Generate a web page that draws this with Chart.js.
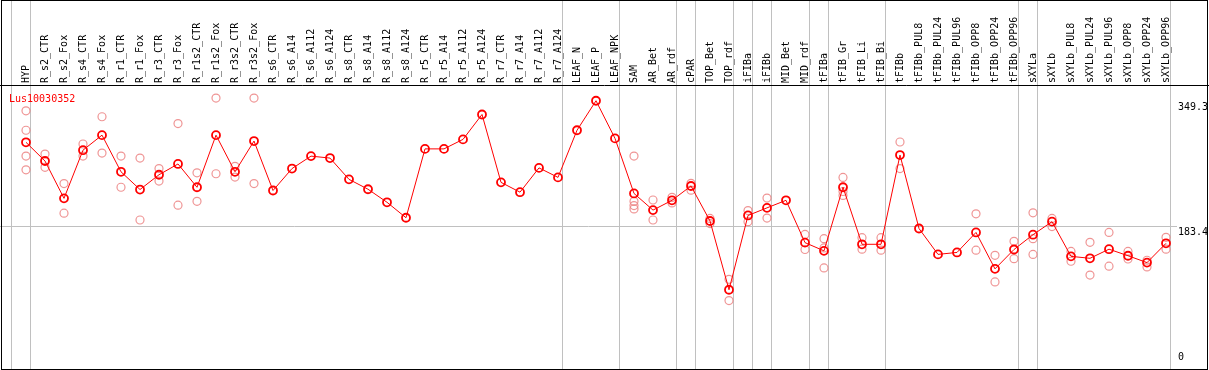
<!DOCTYPE html>
<html>
<head>
<meta charset="utf-8">
<script src="https://cdn.jsdelivr.net/npm/chart.js@4/dist/chart.umd.min.js"></script>
<style>
  html, body { margin: 0; padding: 0; background: #fff; }
  canvas { display: block; }
</style>
</head>
<body>
<canvas id="expr" width="1209" height="370"></canvas>
<script>
const N = null;

const geneName = 'Lus10030352';

const categories = [
    'HYP', 'R_s2_CTR', 'R_s2_Fox', 'R_s4_CTR', 'R_s4_Fox', 'R_r1_CTR', 'R_r1_Fox', 'R_r3_CTR', 'R_r3_Fox',
    'R_r1s2_CTR', 'R_r1s2_Fox', 'R_r3s2_CTR', 'R_r3s2_Fox', 'R_s6_CTR', 'R_s6_A14', 'R_s6_A112', 'R_s6_A124',
    'R_s8_CTR', 'R_s8_A14', 'R_s8_A112', 'R_s8_A124', 'R_r5_CTR', 'R_r5_A14', 'R_r5_A112', 'R_r5_A124',
    'R_r7_CTR', 'R_r7_A14', 'R_r7_A112', 'R_r7_A124', 'LEAF_N', 'LEAF_P', 'LEAF_NPK', 'SAM', 'AR_Bet', 'AR_rdf',
    'cPAR', 'TOP_Bet', 'TOP_rdf', 'iFIBa', 'iFIBb', 'MID_Bet', 'MID_rdf', 'tFIBa', 'tFIB_Gr', 'tFIB_Li', 'tFIB_Bi',
    'tFIBb', 'tFIBb_PUL8', 'tFIBb_PUL24', 'tFIBb_PUL96', 'tFIBb_OPP8', 'tFIBb_OPP24', 'tFIBb_OPP96',
    'sXYLa', 'sXYLb', 'sXYLb_PUL8', 'sXYLb_PUL24', 'sXYLb_PUL96', 'sXYLb_OPP8', 'sXYLb_OPP24', 'sXYLb_OPP96'
];

// index of the last sample in each group (-1 = line before the first one)
const groupEnds = [-1, 0, 28, 31, 34, 35, 37, 38, 39, 41, 42, 45, 52, 53, 60];

const meanValues = [
    294.2, 269.4, 219.9, 283.8, 303.7, 255.1, 231.6, 251.2, 265.5, 234.6,
    303.7, 255.1, 295.9, 230.3, 259.4, 275.9, 273.3, 245.1, 232.0, 214.7,
    194.2, 285.5, 285.5, 298.1, 331.1, 241.1, 228.1, 260.3, 247.7, 310.2,
    349.3, 299.4, 226.4, 204.3, 217.3, 236.3, 189.9, 98.7, 197.2, 207.3,
    217.3, 161.2, 150.3, 234.6, 159.0, 159.0, 277.3, 179.9, 145.6, 148.2,
    174.7, 126.4, 152.1, 171.7, 189.0, 143.0, 140.4, 152.5, 143.8, 134.7,
    160.3
];

const rep1 = [
    335.9, 278.6, 239.5, 292.0, 328.1, 275.9, 273.3, 259.4, 319.0, 253.8, 352.9, 262.4, 352.9,
    N, N, N, N, N, N, N, N, N, N, N, N, N, N, N, N, N, N, N,
    275.9, 217.7, 221.2, 239.8, 193.3, 112.5, 203.7, 220.3,
    N,
    172.1, 166.5, 247.7, 167.8, 167.8, 294.6,
    N, N, N,
    199.4, 144.3, 162.9, 200.7, 193.3, 149.5, 161.6, 174.7, 149.5, 137.8, 168.2
];

const rep2 = [
    310.2, 261.1, 200.3, 275.9, 279.9, 234.6, 191.2, 242.8, 210.8, 216.0, 252.5, 248.1, 239.5,
    N, N, N, N, N, N, N, N, N, N, N, N, N, N, N, N, N, N, N,
    216.0, 191.2, 213.8, 230.7, 186.4, 84.3, 189.0, 193.8,
    N,
    152.1, 154.2, 229.0, 152.5, 151.2, 259.4,
    N, N, N,
    151.2, 109.1, 139.9, 166.5, 182.5, 136.5, 118.2, 130.0, 139.5, 129.0, 152.5
];

const rep3 = [
    275.9,
    N, N, N, N, N, N, N, N, N, N, N, N, N, N, N, N, N, N, N, N, N, N, N, N, N, N, N, N, N, N, N,
    210.3,
    N, N, N, N, N, N, N, N, N,
    127.7, 223.8,
    N, N, N, N, N, N, N, N, N,
    145.6,
    N, N, N, N, N, N, N
];

const rep4 = [
    257.7,
    N, N, N, N, N, N, N, N, N, N, N, N, N, N, N, N, N, N, N, N, N, N, N, N, N, N, N, N, N, N, N,
    205.9,
    N, N, N, N, N, N, N, N, N, N, N, N, N, N, N, N, N, N, N, N, N, N, N, N, N, N, N, N
];

const yTicks = [349.3, 183.4, 0];
const gridValue = 183.4;
const yMax = 370.2;

const FONT = '10px "DejaVu Sans Mono", monospace';

const framePlugin = {
    id: 'frame',
    beforeDatasetsDraw(chart) {
        const { ctx, scales: { x, y }, chartArea } = chart;
        ctx.save();
        ctx.strokeStyle = '#c0c0c0';
        ctx.lineWidth = 1;
        ctx.beginPath();
        groupEnds.forEach(i => {
            const px = Math.round(x.getPixelForValue(i) + 4) + 0.5;
            ctx.moveTo(px, 0);
            ctx.lineTo(px, chart.height);
        });
        const gy = Math.round(y.getPixelForValue(gridValue)) + 0.5;
        ctx.moveTo(0, gy);
        ctx.lineTo(chartArea.right + 1.5, gy);
        ctx.stroke();
        ctx.restore();
    },
    afterDraw(chart) {
        const { ctx, scales: { y }, chartArea } = chart;
        ctx.save();
        ctx.strokeStyle = '#000';
        ctx.lineWidth = 1;
        ctx.strokeRect(1.5, 0.5, chart.width - 3, chart.height - 1);
        ctx.beginPath();
        ctx.moveTo(0, chartArea.top + 0.5);
        ctx.lineTo(chart.width, chartArea.top + 0.5);
        ctx.stroke();

        ctx.font = FONT;
        ctx.textBaseline = 'alphabetic';
        ctx.textAlign = 'left';
        ctx.fillStyle = '#ff0000';
        ctx.fillText(geneName, 9, 102);

        ctx.fillStyle = '#000';
        yTicks.forEach(v => {
            const py = y.getPixelForValue(v);
            const base = v === 0 ? py - 4 : py + 9;
            ctx.fillText(String(v), chartArea.right + 2.5, base);
        });
        ctx.restore();
    }
};

new Chart(document.getElementById('expr'), {
    type: 'line',
    data: {
        labels: categories,
        datasets: [
            {
                label: 'mean',
                data: meanValues,
                borderColor: '#ff0000',
                borderWidth: 1,
                pointRadius: 4,
                pointBorderWidth: 1.8,
                pointBorderColor: '#ff0000',
                pointBackgroundColor: 'rgba(0,0,0,0)',
                tension: 0
            },
            ...[rep1, rep2, rep3, rep4].map((r, k) => ({
                label: 'rep' + (k + 1),
                data: r,
                showLine: false,
                pointRadius: 4,
                pointBorderWidth: 1.2,
                pointBorderColor: 'rgba(236,130,130,0.85)',
                pointBackgroundColor: 'rgba(0,0,0,0)'
            }))
        ]
    },
    options: {
        responsive: false,
        animation: false,
        devicePixelRatio: 1,
        layout: { padding: { left: 16.5, right: 0, top: 0, bottom: 1 } },
        plugins: {
            legend: { display: false },
            tooltip: { enabled: false }
        },
        scales: {
            x: {
                position: 'top',
                offset: true,
                grid: { display: false, drawTicks: false },
                border: { display: false },
                ticks: {
                    autoSkip: false,
                    minRotation: 90,
                    maxRotation: 90,
                    padding: 2,
                    labelOffset: 12,
                    color: '#000',
                    font: { family: '"DejaVu Sans Mono", monospace', size: 10 }
                },
                afterFit(scale) { scale.height = 85; }
            },
            y: {
                position: 'right',
                min: 0,
                max: yMax,
                grid: { display: false, drawTicks: false },
                border: { display: false },
                ticks: { display: false },
                afterFit(scale) { scale.width = 33.5; }
            }
        }
    },
    plugins: [framePlugin]
});
</script>
</body>
</html>
